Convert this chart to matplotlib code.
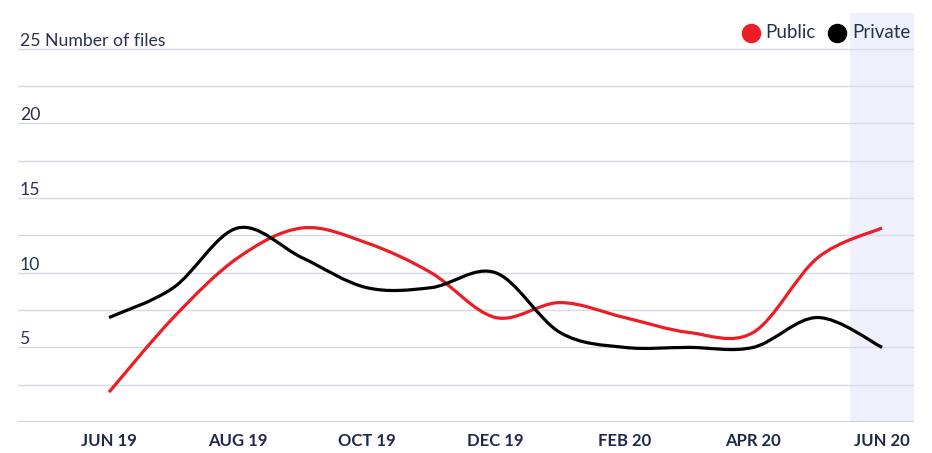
import matplotlib
matplotlib.use("Agg")
import matplotlib.pyplot as plt
from matplotlib.path import Path
from matplotlib.patches import PathPatch
from matplotlib.lines import Line2D
import matplotlib.transforms as mtransforms

months = ["JUN 19", "JUL 19", "AUG 19", "SEP 19", "OCT 19", "NOV 19", "DEC 19",
          "JAN 20", "FEB 20", "MAR 20", "APR 20", "MAY 20", "JUN 20"]
public = [2, 7, 11, 13, 12, 10, 7, 8, 7, 6, 6, 11, 13]
private = [7, 9, 13, 11, 9, 9, 10, 6, 5, 5, 5, 7, 5]
y_ticks = [5, 10, 15, 20, 25]
y_tick_labels = ["5", "10", "15", "20", "25 Number of files"]
series_names = ["Public", "Private"]
colors = ["#ee1c25", "#000000"]

navy = "#28314f"
plt.rcParams['font.family'] = ['Lato', 'DejaVu Sans']

W, H = 932, 453
fig = plt.figure(figsize=(W / 100, H / 100), dpi=100)
ax = fig.add_axes([18 / W, (H - 422) / H, 896 / W, 409 / H])
ax.set_xlim(-1.413, 12.496)
ax.set_ylim(0, 27.4)
for s in ax.spines.values():
    s.set_visible(False)
ax.set_xticks([])
ax.set_yticks([])

# gridlines
grid_vals = [2.5 * k for k in range(1, 11)]
for g in grid_vals:
    ax.axhline(g, color="#d5dae6", lw=1.0, zorder=1)
ax.axhline(0, color="#c3c9d6", lw=1.2, zorder=1)

# highlight band for last month
n = len(months)
ax.axvspan(n - 1 - 0.5, n - 1 + 0.5, color="#eef1fb", zorder=0, lw=0)


def catmull_rom(xs, ys):
    """Uniform Catmull-Rom (cardinal, tension 0) as cubic Bezier path."""
    m = len(xs)
    pts = list(zip(xs, ys))
    verts = [pts[0]]
    codes = [Path.MOVETO]
    for i in range(m - 1):
        p0 = pts[i - 1] if i > 0 else pts[i]
        p1 = pts[i]
        p2 = pts[i + 1]
        p3 = pts[i + 2] if i + 2 < m else pts[i + 1]
        c1 = (p1[0] + (p2[0] - p0[0]) / 6, p1[1] + (p2[1] - p0[1]) / 6)
        c2 = (p2[0] - (p3[0] - p1[0]) / 6, p2[1] - (p3[1] - p1[1]) / 6)
        verts += [c1, c2, p2]
        codes += [Path.CURVE4] * 3
    return Path(verts, codes)


xs = list(range(n))
for vals, col in zip([public, private], colors):
    p = catmull_rom(xs, vals)
    ax.add_patch(PathPatch(p, facecolor="none", edgecolor=col, lw=2.3,
                           zorder=3, capstyle="butt", joinstyle="round"))

# y labels above gridlines
ylab_tr = mtransforms.offset_copy(ax.transData, fig=fig, x=0, y=3, units="dots")
for v, lab in zip(y_ticks, y_tick_labels):
    ax.text(-1.413 + 2 / 64.42, v, lab, transform=ylab_tr, ha="left",
            va="baseline", fontsize=12.7, color=navy)

# x labels every 2 months
xlab_tr = mtransforms.offset_copy(ax.transData, fig=fig, x=0, y=-19, units="dots")
for i in range(0, n, 2):
    ax.text(i, 0, months[i], transform=xlab_tr, ha="center", va="center",
            fontsize=12, color="#1f2a4b", fontweight="bold")

# legend
leg_items = [(750.7, 765, series_names[0], colors[0]),
             (837, 852, series_names[1], colors[1])]
for cx, tx, name, col in leg_items:
    fig.add_artist(Line2D([cx / W], [1 - 32.7 / H], marker="o", markersize=13,
                          color=col, linestyle="none", transform=fig.transFigure))
    fig.text(tx / W, 1 - 32.7 / H, name, ha="left", va="center",
             fontsize=13.5, color=navy)

fig.savefig("out.png", dpi=100)
